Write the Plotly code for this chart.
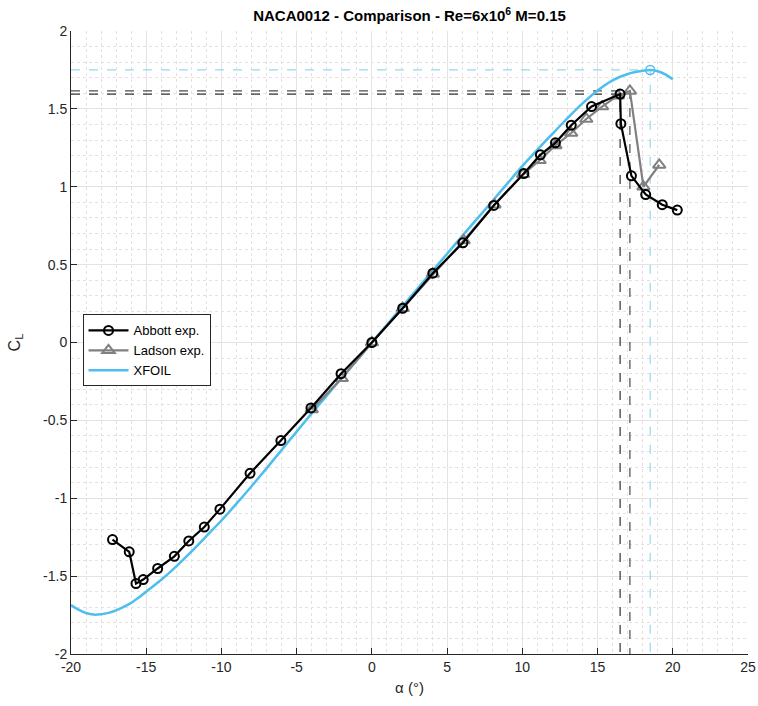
import plotly.graph_objects as go

# ---------------- data ----------------
alpha_abbott = [-17.24, -16.13, -15.68, -15.2, -14.24, -13.13, -12.17, -11.14, -10.1, -8.1,
                -6.05, -4.05, -2.05, 0.0, 2.05, 4.05, 6.05, 8.1, 10.1, 11.2,
                12.2, 13.25, 14.6, 16.5, 16.55, 17.25, 18.2, 19.3, 20.3]
cl_abbott = [-1.265, -1.344, -1.548, -1.522, -1.451, -1.373, -1.274, -1.185, -1.07, -0.84,
             -0.63, -0.42, -0.2, 0.0, 0.22, 0.445, 0.64, 0.88, 1.085, 1.205,
             1.282, 1.395, 1.515, 1.595, 1.405, 1.07, 0.95, 0.885, 0.85]

alpha_ladson = [-4.0, -2.0, 0.0, 2.05, 4.05, 6.1, 8.15, 10.05, 11.15, 12.2,
                13.25, 14.25, 15.3, 16.35, 17.15, 18.05, 19.1]
cl_ladson = [-0.43, -0.23, 0.0, 0.22, 0.44, 0.655, 0.885, 1.08, 1.17, 1.265,
             1.345, 1.435, 1.515, 1.585, 1.615, 1.0, 1.14]

alpha_xfoil = [-20, -19.5, -19, -18.5, -18, -17.5, -17, -16.5, -16, -15.5, -15, -14, -13, -12,
               -11, -10, -9, -8, -7, -6, -5, -4, -3, -2, -1, 0, 1, 2, 3, 4, 5, 6, 7, 8, 9,
               10, 11, 12, 13, 14, 15, 16, 17, 18, 18.5, 19, 19.5, 20]
cl_xfoil = [-1.685, -1.715, -1.737, -1.747, -1.745, -1.736, -1.72, -1.698, -1.672, -1.638,
            -1.6, -1.523, -1.437, -1.343, -1.243, -1.143, -1.035, -0.923, -0.808, -0.69,
            -0.572, -0.455, -0.341, -0.227, -0.114, 0.0, 0.114, 0.228, 0.342, 0.456, 0.57,
            0.683, 0.795, 0.907, 1.02, 1.132, 1.238, 1.34, 1.44, 1.535, 1.618, 1.683, 1.724,
            1.745, 1.75, 1.742, 1.722, 1.69]

x_ticks = [-20, -15, -10, -5, 0, 5, 10, 15, 20, 25]
x_ticktext = ["-20", "-15", "-10", "-5", "0", "5", "10", "15", "20", "25"]
y_ticks = [-2, -1.5, -1, -0.5, 0, 0.5, 1, 1.5, 2]
y_ticktext = ["-2", "-1.5", "-1", "-0.5", "0", "0.5", "1", "1.5", "2"]

XMIN, XMAX, YMIN, YMAX = -20, 25, -2, 2

BLUE = "#4DBEEE"
BLUE_DASH = "#9ad6f2"


def peak(a, c):
    i = max(range(len(c)), key=lambda k: c[k])
    return a[i], c[i]


fig = go.Figure()

# peak guide lines
for (a, c), col in [(peak(alpha_abbott, cl_abbott), "#333333"),
                    (peak(alpha_ladson, cl_ladson), "#4d4d4d"),
                    (peak(alpha_xfoil, cl_xfoil), BLUE_DASH)]:
    fig.add_trace(go.Scatter(x=[XMIN, a, a], y=[c, c, YMIN], mode="lines",
                             line=dict(color=col, width=1.2, dash="dash"),
                             showlegend=False, hoverinfo="skip"))

fig.add_trace(go.Scatter(x=alpha_xfoil, y=cl_xfoil, mode="lines", name="XFOIL",
                         line=dict(color=BLUE, width=2.5, shape="spline", smoothing=0.5)))

fig.add_trace(go.Scatter(x=alpha_ladson, y=cl_ladson, mode="lines+markers", name="Ladson exp.",
                         line=dict(color="#808080", width=2.2),
                         marker=dict(symbol="triangle-up-open", size=11, color="#808080",
                                     line=dict(width=2))))

fig.add_trace(go.Scatter(x=alpha_abbott, y=cl_abbott, mode="lines+markers", name="Abbott exp.",
                         line=dict(color="black", width=2.2),
                         marker=dict(symbol="circle-open", size=9, color="black",
                                     line=dict(width=2))))

xa, xc = peak(alpha_xfoil, cl_xfoil)
fig.add_trace(go.Scatter(x=[xa], y=[xc], mode="markers", showlegend=False,
                         marker=dict(symbol="circle-open", size=9, color=BLUE,
                                     line=dict(width=1.5))))

axis_common = dict(showline=True, linecolor="#262626", linewidth=1,
                   ticks="inside", ticklen=6, tickcolor="#262626",
                   showgrid=True, gridcolor="#e3e3e3", gridwidth=1,
                   zeroline=False, mirror=False, automargin=False,
                   tickfont=dict(size=14, color="#262626"))

fig.update_xaxes(range=[XMIN, XMAX], tickvals=x_ticks, ticktext=x_ticktext,
                 minor=dict(dtick=1, showgrid=True, gridcolor="#e2e2e2", griddash="dot",
                            gridwidth=1, ticks=""),
                 title=dict(text="α (°)", font=dict(size=15, color="#262626"), standoff=8),
                 **axis_common)
fig.update_yaxes(range=[YMIN, YMAX], tickvals=y_ticks, ticktext=y_ticktext,
                 minor=dict(dtick=0.1, showgrid=True, gridcolor="#e2e2e2", griddash="dot",
                            gridwidth=1, ticks=""),
                 title=dict(text="C<sub>L</sub>", font=dict(size=16, color="#262626"), standoff=18),
                 **axis_common)

fig.update_layout(
    width=758, height=706,
    margin=dict(l=71, r=10, t=31, b=52),
    paper_bgcolor="white", plot_bgcolor="white",
    font=dict(family="Liberation Sans, Arial, sans-serif", color="#262626"),
    title=dict(text="<b>NACA0012 - Comparison - Re=6x10<sup>6</sup> M=0.15</b>",
               x=0.5, xanchor="center", xref="paper", y=0.985, yanchor="top",
               font=dict(size=15, color="black")),
    legend=dict(x=0.017, y=0.545, xanchor="left", yanchor="top",
                bgcolor="white", bordercolor="#262626", borderwidth=1,
                font=dict(size=13, color="black"), traceorder="reversed",
                tracegroupgap=0, itemwidth=40),
)

fig.write_html("out.html")
